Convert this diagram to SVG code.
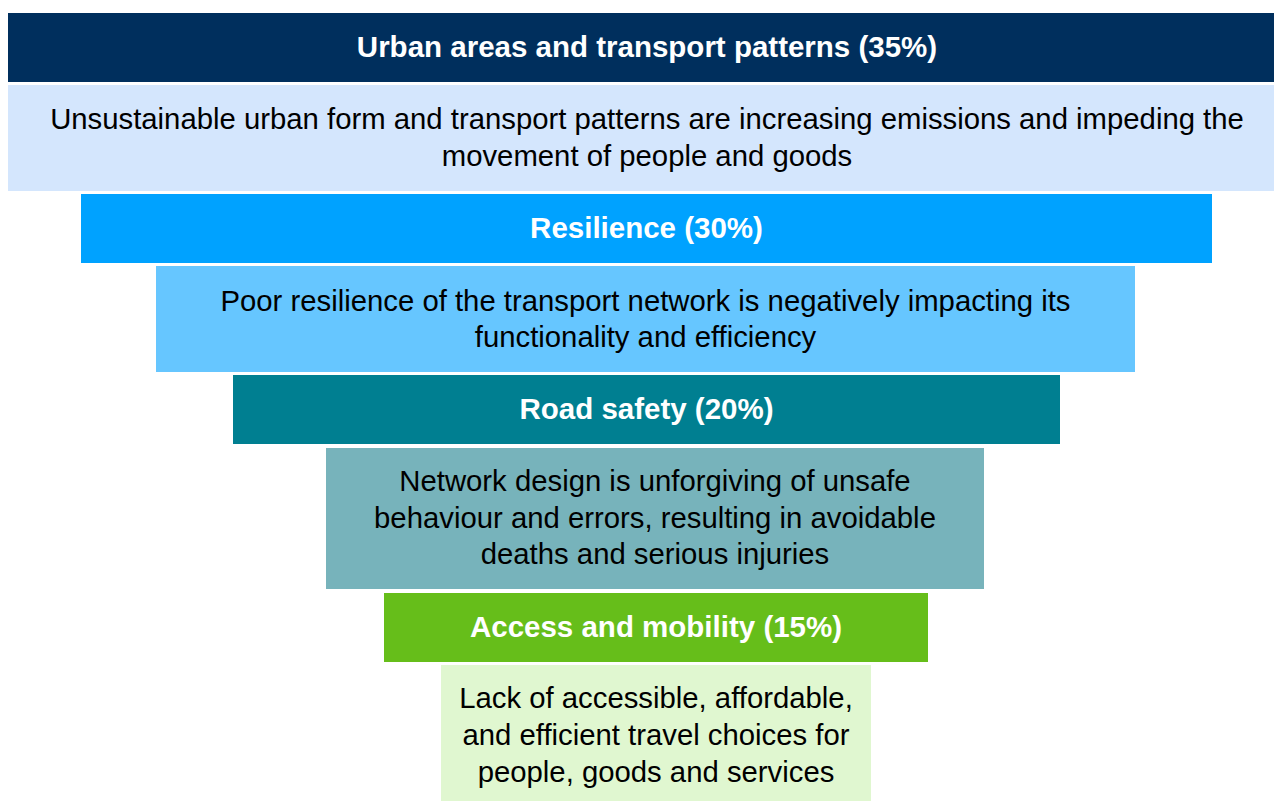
<svg xmlns="http://www.w3.org/2000/svg" width="1274" height="801" viewBox="0 0 1274 801">
  <style>
    .hd { font-family: "Liberation Sans", Arial, sans-serif; font-weight: bold; font-size: 29.5px; fill: #ffffff; text-anchor: middle; }
    .bd { font-family: "Liberation Sans", Arial, sans-serif; font-size: 29.3px; fill: #000000; text-anchor: middle; }
  </style>
  <rect width="1274" height="801" fill="#ffffff"/>

  <g id="urban-heading">
    <rect x="8" y="13" width="1277" height="69" fill="#002F5D"/>
    <text class="hd" x="647" y="57">Urban areas and transport patterns (35%)</text>
  </g>
  <g id="urban-detail">
    <rect x="8" y="85" width="1277" height="106" fill="#D4E6FD"/>
    <text class="bd" x="647" y="129">Unsustainable urban form and transport patterns are increasing emissions and impeding the</text>
    <text class="bd" x="647" y="166">movement of people and goods</text>
  </g>

  <g id="resilience-heading">
    <rect x="81" y="194" width="1131" height="69" fill="#00A2FF"/>
    <text class="hd" x="646.5" y="238">Resilience (30%)</text>
  </g>
  <g id="resilience-detail">
    <rect x="156" y="266" width="979" height="106" fill="#66C6FF"/>
    <text class="bd" x="645.5" y="311">Poor resilience of the transport network is negatively impacting its</text>
    <text class="bd" x="645.5" y="347">functionality and efficiency</text>
  </g>

  <g id="safety-heading">
    <rect x="233" y="375" width="827" height="69" fill="#007F91"/>
    <text class="hd" x="646.5" y="419">Road safety (20%)</text>
  </g>
  <g id="safety-detail">
    <rect x="326" y="448" width="658" height="141" fill="#77B3BB"/>
    <text class="bd" x="655" y="491">Network design is unforgiving of unsafe</text>
    <text class="bd" x="655" y="528">behaviour and errors, resulting in avoidable</text>
    <text class="bd" x="655" y="564">deaths and serious injuries</text>
  </g>

  <g id="access-heading">
    <rect x="384" y="593" width="544" height="69" fill="#66BE1A"/>
    <text class="hd" x="656" y="637">Access and mobility (15%)</text>
  </g>
  <g id="access-detail">
    <rect x="441" y="665" width="430" height="136" fill="#E0F7D0"/>
    <text class="bd" x="656" y="708">Lack of accessible, affordable,</text>
    <text class="bd" x="656" y="745">and efficient travel choices for</text>
    <text class="bd" x="656" y="782">people, goods and services</text>
  </g>
</svg>
